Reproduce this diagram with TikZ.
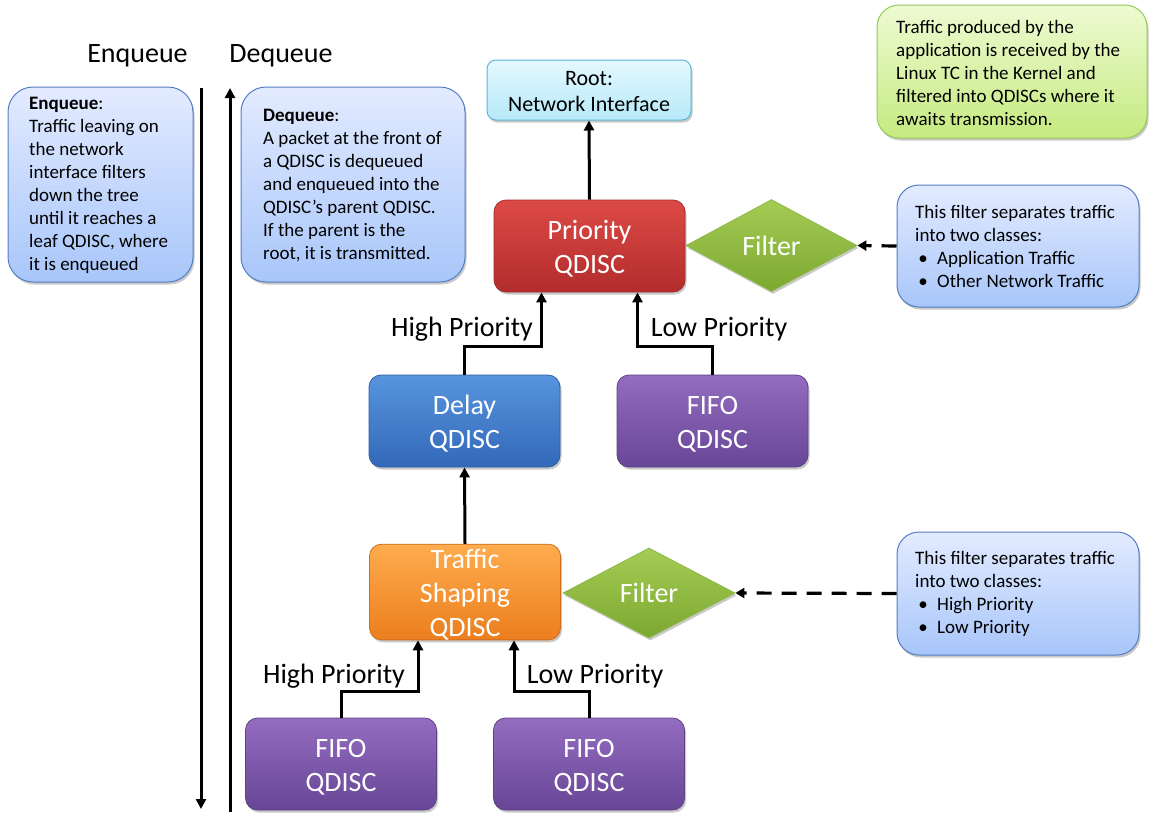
\documentclass[tikz,border=0pt]{standalone}
\usepackage{fontspec}
\setmainfont{Carlito}
\usetikzlibrary{arrows.meta,shapes.geometric,shadows}
\definecolor{redT}{RGB}{220,74,70}
\definecolor{redB}{RGB}{178,44,44}
\definecolor{redD}{RGB}{160,45,45}
\definecolor{blueT}{RGB}{88,148,222}
\definecolor{blueB}{RGB}{50,105,185}
\definecolor{blueD}{RGB}{45,95,165}
\definecolor{purT}{RGB}{148,108,192}
\definecolor{purB}{RGB}{104,70,150}
\definecolor{purD}{RGB}{95,65,135}
\definecolor{orT}{RGB}{253,172,78}
\definecolor{orB}{RGB}{236,126,30}
\definecolor{orD}{RGB}{205,110,30}
\definecolor{grT}{RGB}{165,204,85}
\definecolor{grB}{RGB}{124,168,48}
\definecolor{grD}{RGB}{140,185,70}
\definecolor{rootT}{RGB}{228,249,254}
\definecolor{rootB}{RGB}{182,233,249}
\definecolor{rootD}{RGB}{95,182,212}
\definecolor{cbT}{RGB}{227,235,255}
\definecolor{cbB}{RGB}{168,198,250}
\definecolor{cbD}{RGB}{85,125,195}
\definecolor{gbT}{RGB}{237,251,210}
\definecolor{gbB}{RGB}{198,234,128}
\definecolor{gbD}{RGB}{150,200,90}
\begin{document}
\begin{tikzpicture}[x=1pt,y=-1pt,
  shad/.style={drop shadow={shadow xshift=1.5pt,shadow yshift=-2.5pt,opacity=0.3,fill=black!70}},
  qd/.style n args={3}{rounded corners=12pt, minimum width=191pt, minimum height=92pt,
     inner sep=0pt, text=white, font=\fontsize{28}{34}\selectfont, align=center,
     top color=#1, bottom color=#2, draw=#3, line width=0.8pt, shad},
  flt/.style={diamond, minimum width=171pt, minimum height=92pt, inner sep=0pt,
     top color=grT, bottom color=grB, draw=grD, line width=0.8pt, text=white,
     font=\fontsize{28}{34}\selectfont, shad},
  cbox/.style n args={3}{rounded corners=25pt, inner sep=0pt,
     top color=#1, bottom color=#2, draw=#3, line width=1pt, shad},
  ctext/.style={anchor=west, align=left, inner sep=0pt, font=\fontsize{19}{23}\selectfont},
  lbl/.style={font=\fontsize{28}{34}\selectfont, inner sep=0pt},
  arr/.style={line width=3pt, -{Triangle[length=10pt,width=10pt]}},
  darr/.style={line width=3.2pt, dash pattern=on 15pt off 10pt, -{Triangle[length=9pt,width=10pt]}}]
\useasboundingbox (0,0) rectangle (1149,812);

% titles
\node[lbl] (enqt) at (137.5,56) {Enqueue};
\node[lbl] (deqt) at (281,56) {Dequeue};

% callout boxes
\node[cbox={cbT}{cbB}{cbD}, minimum width=185pt, minimum height=195pt] (enqbox) at (100.5,184.5) {};
\node[ctext] (enqtext) at (29,185) {\textbf{Enqueue}:\\Traffic leaving on\\the network\\interface filters\\down the tree\\until it reaches a\\leaf QDISC, where\\it is enqueued};

\node[cbox={cbT}{cbB}{cbD}, minimum width=224pt, minimum height=195pt] (deqbox) at (353,184.5) {};
\node[ctext] (deqtext) at (263,185.5) {\textbf{Dequeue}:\\A packet at the front of\\a QDISC is dequeued\\and enqueued into the\\QDISC’s parent QDISC.\\If the parent is the\\root, it is transmitted.};

\node[cbox={gbT}{gbB}{gbD}, rounded corners=22pt, minimum width=270pt, minimum height=133pt] (appbox) at (1012,71.5) {};
\node[ctext] (apptext) at (896,73) {Traffic produced by the\\application is received by the\\Linux TC in the Kernel and\\filtered into QDISCs where it\\awaits transmission.};

\node[cbox={cbT}{cbB}{cbD}, rounded corners=22pt, minimum width=242pt, minimum height=122pt] (fbox1) at (1018,246) {};
\node[ctext] (ftext1) at (915,246.5) {This filter separates traffic\\into two classes:\\\makebox[22pt][l]{\,\textbullet}Application Traffic\\\makebox[22pt][l]{\,\textbullet}Other Network Traffic};

\node[cbox={cbT}{cbB}{cbD}, rounded corners=22pt, minimum width=242pt, minimum height=123pt] (fbox2) at (1018,593.5) {};
\node[ctext] (ftext2) at (915,593.5) {This filter separates traffic\\into two classes:\\\makebox[22pt][l]{\,\textbullet}High Priority\\\makebox[22pt][l]{\,\textbullet}Low Priority};

% root
\node[rounded corners=9pt, minimum width=204pt, minimum height=60pt, inner sep=0pt,
  top color=rootT, bottom color=rootB, draw=rootD, line width=1pt, shad,
  align=center, font=\fontsize{22}{26}\selectfont] (root) at (589,90) {\rule{0pt}{18pt}Root:\\Network Interface};

% qdiscs
\node[qd={redT}{redB}{redD}] (prio) at (589.5,246) {\rule{0pt}{24pt}Priority\\QDISC};
\node[qd={blueT}{blueB}{blueD}] (delay) at (464.5,421) {\rule{0pt}{24pt}Delay\\QDISC};
\node[qd={purT}{purB}{purD}] (fifo1) at (712.5,421) {\rule{0pt}{24pt}FIFO\\QDISC};
\node[qd={orT}{orB}{orD}] (ts) at (465,592) {\rule{0pt}{24pt}Traffic\\Shaping\\QDISC};
\node[qd={purT}{purB}{purD}] (fifo2) at (341,764) {\rule{0pt}{24pt}FIFO\\QDISC};
\node[qd={purT}{purB}{purD}] (fifo3) at (589,764) {\rule{0pt}{24pt}FIFO\\QDISC};

% filters
\node[flt] (filt1) at (771.5,245.5) {Filter};
\node[flt, minimum width=172pt, minimum height=90pt] (filt2) at (649,593) {Filter};

% connectors
\draw[arr] (prio.north) -- (root.south);
\draw[arr] (delay.north) -- ++(0,-28) -| ([xshift=-48pt]prio.south);
\draw[arr] (fifo1.north) -- ++(0,-28) -| ([xshift=48pt]prio.south);
\draw[arr] (ts.north) -- (delay.south);
\draw[arr] (fifo2.north) -- ++(0,-26) -| ([xshift=-47pt]ts.south);
\draw[arr] (fifo3.north) -- ++(0,-26) -| ([xshift=49pt]ts.south);
\draw[darr] (fbox1.west) -- (filt1.east);
\draw[darr] (fbox2.west) -- (filt2.east);

% labels
\node[lbl] (hp1) at (462,329) {High Priority};
\node[lbl] (lp1) at (719,329) {Low Priority};
\node[lbl] (hp2) at (334,676) {High Priority};
\node[lbl] (lp2) at (595,676) {Low Priority};

% long arrows
\coordinate (enqTop) at (201,88);
\coordinate (enqBot) at (201,809);
\coordinate (deqTop) at (230,88);
\coordinate (deqBot) at (230,812);
\draw[arr] (enqTop) -- (enqBot);
\draw[arr] (deqBot) -- (deqTop);
\end{tikzpicture}
\end{document}
